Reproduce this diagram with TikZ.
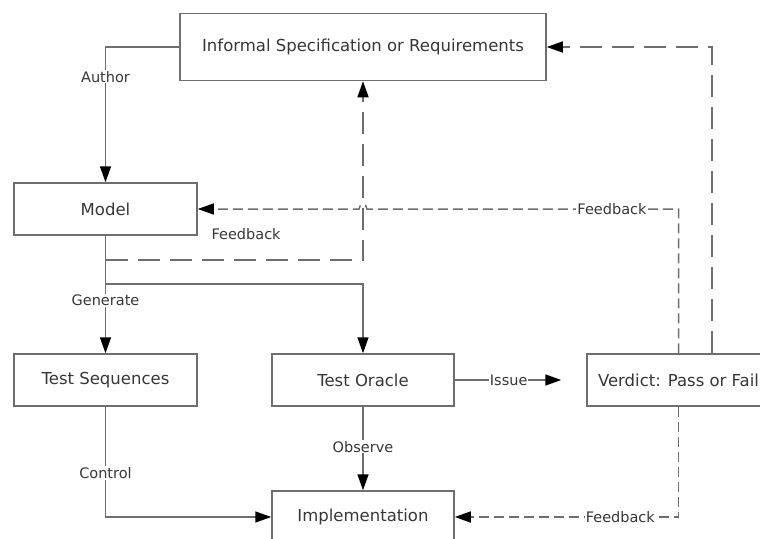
\documentclass[tikz,border=0pt]{standalone}
\usepackage{fontspec}
\setmainfont{DejaVu Sans}
\usetikzlibrary{arrows.meta}
\definecolor{linec}{RGB}{110,110,110}
\definecolor{textc}{RGB}{55,55,55}
\tikzset{
  box/.style={draw=linec, line width=1.5pt, fill=white, text=textc, font=\fontsize{16.5}{19}\selectfont, inner sep=0pt},
  conn/.style={draw=linec, line width=1.5pt, -{Triangle[length=16pt,width=11pt,fill=black,color=black]}},
  longdash/.style={dash pattern=on 22pt off 10pt},
  shortdash/.style={dash pattern=on 10pt off 5pt},
  lab/.style={text=textc, font=\fontsize{14.5}{17}\selectfont, inner sep=1pt},
  labw/.style={lab, fill=white},
}
\begin{document}
\begin{tikzpicture}[x=1pt,y=-1pt]
\clip (0,0) rectangle (760,538);
\fill[white] (0,0) rectangle (760,538);
\node[box, minimum width=366pt, minimum height=67pt] (spec) at (363,47) {Informal Specification or Requirements};
\node[box, minimum width=183pt, minimum height=52pt] (model) at (105.5,209) {Model};
\node[box, minimum width=183pt, minimum height=52pt] (seq) at (105.5,380) {Test Sequences};
\node[box, minimum width=182pt, minimum height=52pt] (oracle) at (363,380) {Test Oracle};
\node[box, minimum width=183pt, minimum height=52pt] (verdict) at (678.5,380) {Verdict: Pass or Fail};
\node[box, minimum width=182pt, minimum height=52pt] (impl) at (363,517) {Implementation};
\coordinate (split) at (105.5,284);
\coordinate (fb) at (105.5,260);
% solid connectors
\draw[conn] (spec.west) -| node[labw, pos=0.61] {Author} (model.north);
\draw[conn] (model.south) -- node[labw, pos=0.55] {Generate} (seq.north);
\draw[conn] (split) -| (oracle.north);
\draw[conn] (seq.south) |- node[labw, pos=0.3] {Control} (impl.west);
\draw[conn] (oracle.south) -- node[labw, pos=0.48] {Observe} (impl.north);
\draw[conn, shorten >=25pt] (oracle.east) -- node[labw, pos=0.41] {Issue} (verdict.west);
% dashed feedback
\draw[conn, longdash] (fb) -| node[lab, pos=0.273, yshift=26pt] {Feedback} (spec.south);
\draw[conn, longdash] ([xshift=33.5pt]verdict.north) |- (spec.east);
\draw[conn, shortdash] (verdict.north) -- (verdict.north |- model.east) -- (367,209) .. controls (367,203) and (359,203) .. (359,209) -- (model.east);
\node[labw] at (612,209) {Feedback};
\draw[conn, shortdash] (verdict.south) |- node[labw, pos=0.63] {Feedback} (impl.east);
\end{tikzpicture}
\end{document}
